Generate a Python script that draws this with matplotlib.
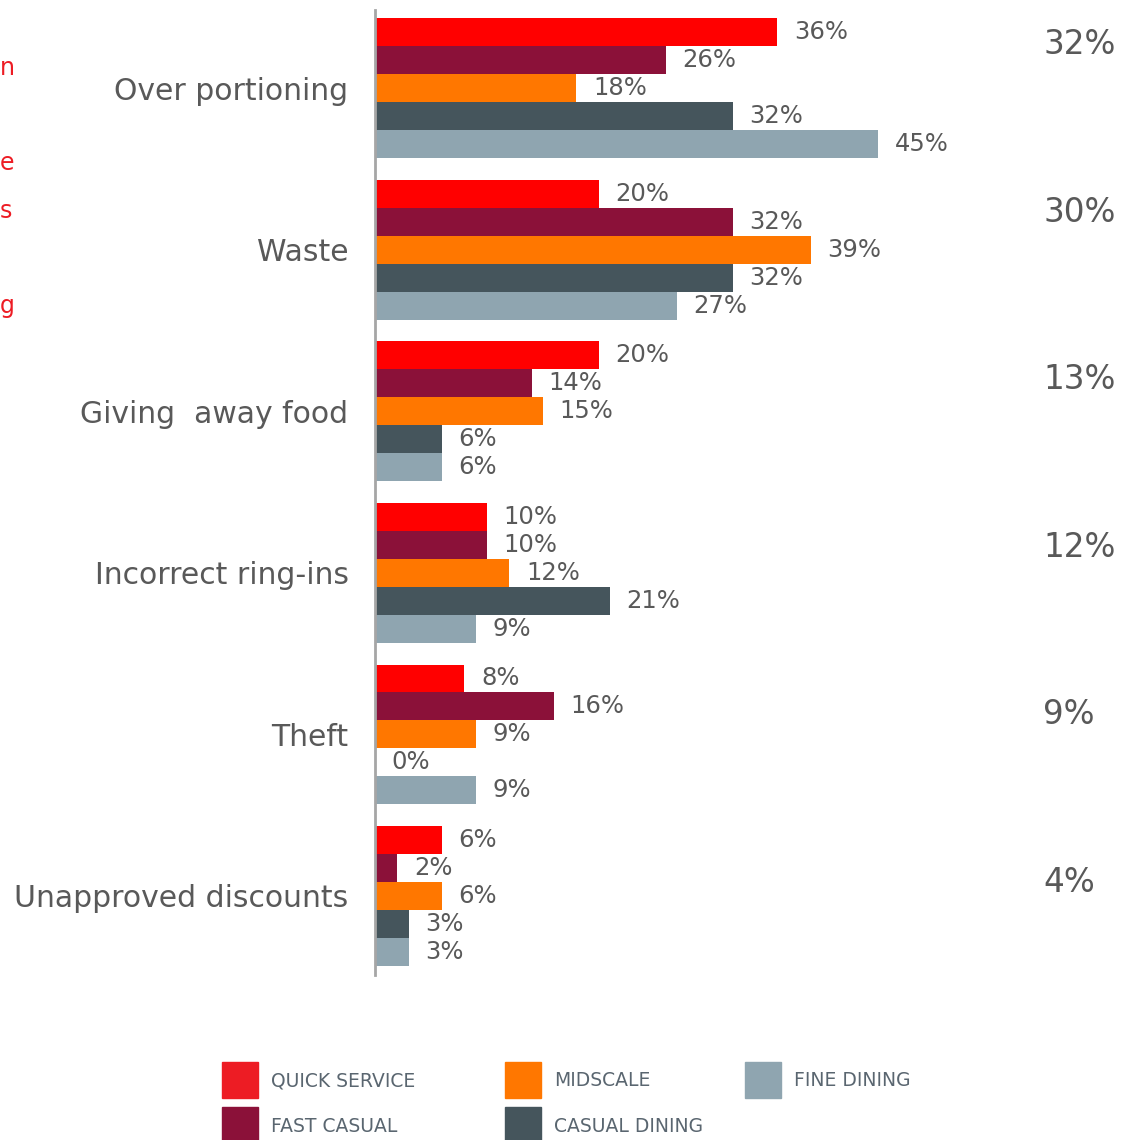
import matplotlib
matplotlib.use('Agg')
import matplotlib.pyplot as plt
from matplotlib.patches import Rectangle

# Data
categories = ['Over portioning', 'Waste', 'Giving  away food',
              'Incorrect ring-ins', 'Theft', 'Unapproved discounts']
segments = ['QUICK SERVICE', 'FAST CASUAL', 'MIDSCALE', 'CASUAL DINING', 'FINE DINING']
quick_service = [36, 20, 20, 10, 8, 6]
fast_casual = [26, 32, 14, 10, 16, 2]
midscale = [18, 39, 15, 12, 9, 6]
casual_dining = [32, 32, 6, 21, 0, 3]
fine_dining = [45, 27, 6, 9, 9, 3]
overall = [32, 30, 13, 12, 9, 4]
side_letters = ['n', 'e', 's', 'g']

series = [quick_service, fast_casual, midscale, casual_dining, fine_dining]
bar_colors = ['#FF0000', '#8B1139', '#FF7700', '#45555C', '#8FA5B0']
legend_colors = ['#ED1C24', '#8B1139', '#FF7700', '#45555C', '#8FA5B0']
text_gray = '#595959'

W, H = 1132, 1140
fig = plt.figure(figsize=(W / 100, H / 100), dpi=100)
plt.rcParams['font.family'] = ['DejaVu Sans']

# axes placed in pixel terms
ax = fig.add_axes([375 / W, 1 - 975 / H, 559 / W, (975 - 10) / H])

bar_h = 0.173
for j, vals in enumerate(series):
    ys = [i + (j - 2) * bar_h for i in range(len(categories))]
    ax.barh(ys, vals, height=bar_h, color=bar_colors[j], edgecolor='none')
    for y, v in zip(ys, vals):
        ax.annotate(f'{v}%', xy=(v, y), xytext=(12, 0), textcoords='offset points',
                    ha='left', va='center', fontsize=17.5, color=text_gray)

ax.set_xlim(0, 50)
ax.set_ylim(5.489, -0.483)
ax.set_yticks(range(len(categories)))
ax.set_yticklabels(categories, fontsize=21.5, color=text_gray)
ax.tick_params(axis='y', length=0, pad=19)
ax.set_xticks([])
for s in ['top', 'right', 'bottom']:
    ax.spines[s].set_visible(False)
ax.spines['left'].set_color('#A6A6A6')
ax.spines['left'].set_linewidth(2)

# overall percentages on the right
for i, v in enumerate(overall):
    fig.text(1043 / W, 1 - (45 + i * 167.4) / H, f'{v}%', ha='left', va='center',
             fontsize=23.5, color=text_gray)

# clipped red text fragments on the left edge
for letter, yp in zip(side_letters, [68, 163, 211, 306]):
    fig.text(0 / W, 1 - yp / H, letter, ha='left', va='center', fontsize=17, color='#ED1C24')

# legend
col_x = [222, 222, 505, 505, 745]
row_y = [1062, 1107, 1062, 1107, 1062]
for name, c, xp, yp in zip(segments, legend_colors, col_x, row_y):
    fig.add_artist(Rectangle((xp / W, 1 - (yp + 36) / H), 36 / W, 36 / H,
                             transform=fig.transFigure, color=c, clip_on=False))
    fig.text((xp + 49) / W, 1 - (yp + 19) / H, name, ha='left', va='center',
             fontsize=13.5, color='#5A6670')

fig.savefig('out.png', dpi=100)
